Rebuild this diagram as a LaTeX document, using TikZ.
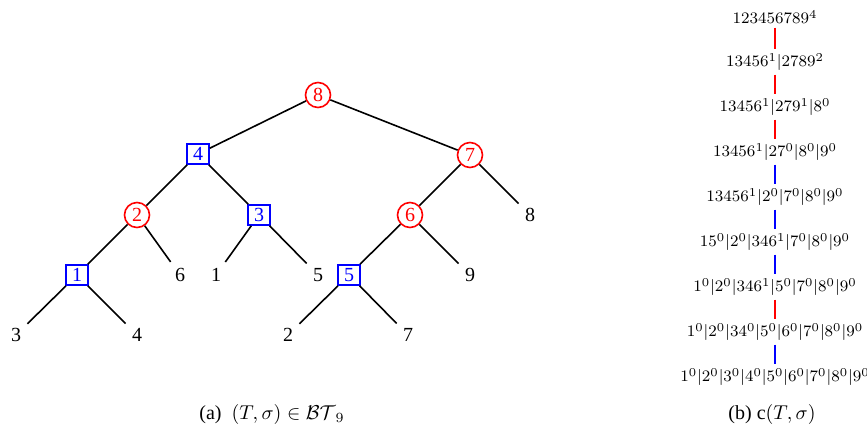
\documentclass[tikz,border=0pt]{standalone}
\usepackage{amsmath,amssymb}
\usepackage{fontspec}
\setmainfont{Liberation Serif}
\usepackage{tikz}
\usetikzlibrary{positioning}

\begin{document}
\begin{tikzpicture}[x=0.5pt,y=-0.5pt,
    circv/.style={circle,draw=red,text=red,line width=0.8pt,minimum size=12.5pt,inner sep=0.5pt},
    sqv/.style={rectangle,draw=blue,text=blue,line width=0.8pt,minimum width=11pt,minimum height=10pt,inner sep=0pt},
    leaf/.style={inner sep=3pt},
    edge/.style={line width=0.8pt},
    chainlbl/.style={inner sep=1.8pt,font=\fontsize{8.5}{10}\selectfont},
    chainedge/.style={line width=0.8pt}]
  \useasboundingbox (0,0) rectangle (867,430);
  % inner vertices of the tree
  \node[circv] (v8) at (318,95) {8};
  \node[sqv]   (v4) at (198,154) {4};
  \node[circv] (v7) at (470,155) {7};
  \node[circv] (v2) at (137,215) {2};
  \node[sqv]   (v3) at (259,215) {3};
  \node[circv] (v6) at (410,215) {6};
  \node[sqv]   (v1) at (77,275) {1};
  \node[sqv]   (v5) at (349,275) {5};
  % leaves
  \foreach \nm/\x/\y/\lab in {l8/530/215/8,l6/180/275/6,l1/216/275/1,l5/318/275/5,l9/470/275/9,
                             l3/16/335/3,l4/137/335/4,l2/288/335/2,l7/408/335/7}
    \node[leaf] (\nm) at (\x,\y) {\lab};
  \foreach \a/\b in {v8/v4,v8/v7,v4/v2,v4/v3,v7/v6,v7/l8,v2/v1,v2/l6,v3/l1,v3/l5,
                     v6/v5,v6/l9,v1/l3,v1/l4,v5/l2,v5/l7}
    \draw[edge] (\a) -- (\b);
  \node (capa) at (272,414) {(a)\enspace$(T,\sigma)\in\mathcal{BT}_9$};

  % chain c(T,sigma)
  \foreach \i/\txt in {0/{123456789^4},1/{13456^1|2789^2},2/{13456^1|279^1|8^0},
                       3/{13456^1|27^0|8^0|9^0},4/{13456^1|2^0|7^0|8^0|9^0},
                       5/{15^0|2^0|346^1|7^0|8^0|9^0},6/{1^0|2^0|346^1|5^0|7^0|8^0|9^0},
                       7/{1^0|2^0|34^0|5^0|6^0|7^0|8^0|9^0},8/{1^0|2^0|3^0|4^0|5^0|6^0|7^0|8^0|9^0}}
    \node[chainlbl] (c\i) at (775,{17+45*\i}) {$\txt$};
  \foreach \a/\b/\col in {0/1/red,1/2/red,2/3/red,3/4/blue,4/5/blue,5/6/blue,6/7/red,7/8/blue}
    \draw[chainedge,\col] (c\a) -- (c\b);
  \node (capb) at (772,414) {(b) $\mathrm{c}(T,\sigma)$};
\end{tikzpicture}
\end{document}
